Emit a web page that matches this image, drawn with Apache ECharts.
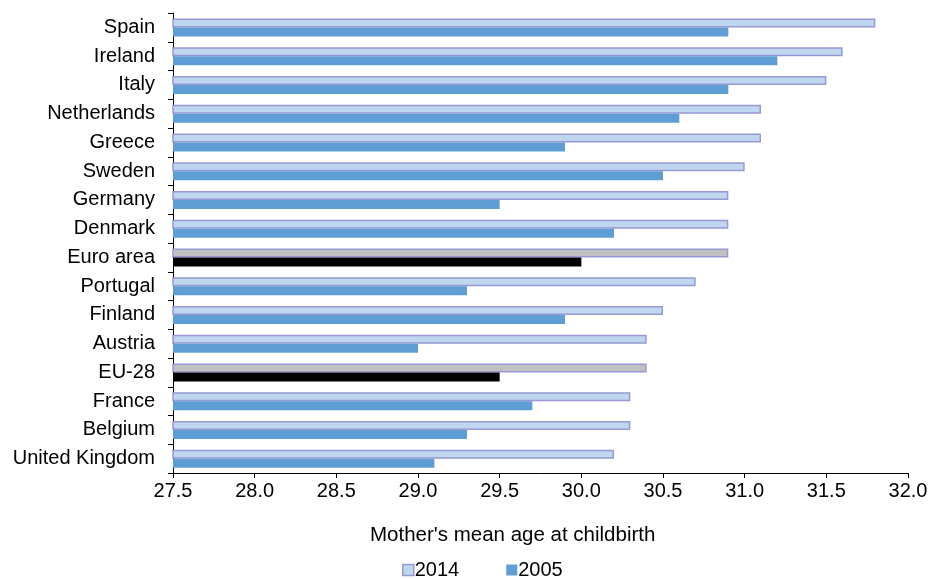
<!DOCTYPE html>
<html>
<head>
<meta charset="utf-8">
<script src="https://cdn.jsdelivr.net/npm/echarts@6/dist/echarts.min.js"></script>
<style>
  html, body { margin: 0; padding: 0; background: #fff; }
  #chart { width: 931px; height: 579px; }
</style>
</head>
<body>
<div id="chart"></div>
<script>
// Mother's mean age at childbirth, 2014 vs 2005
const countries = ['Spain', 'Ireland', 'Italy', 'Netherlands', 'Greece', 'Sweden', 'Germany', 'Denmark',
  'Euro area', 'Portugal', 'Finland', 'Austria', 'EU-28', 'France', 'Belgium', 'United Kingdom'];
const age2014 = [31.8, 31.6, 31.5, 31.1, 31.1, 31.0, 30.9, 30.9, 30.9, 30.7, 30.5, 30.4, 30.4, 30.3, 30.3, 30.2];
const age2005 = [30.9, 31.2, 30.9, 30.6, 29.9, 30.5, 29.5, 30.2, 30.0, 29.3, 29.9, 29.0, 29.5, 29.7, 29.3, 29.1];
const aggregates = ['Euro area', 'EU-28'];

const FONT = '"Liberation Sans", Arial, sans-serif';
const C2014 = '#bed7ee';
const C2014_BORDER = '#9898d6';
const C2005 = '#5f9ed4';

const data2014 = countries.map((c, i) => aggregates.includes(c)
  ? { value: age2014[i], itemStyle: { color: '#c0c0c0' } }
  : age2014[i]);
const data2005 = countries.map((c, i) => aggregates.includes(c)
  ? { value: age2005[i], itemStyle: { color: '#000000' } }
  : age2005[i]);

const chart = echarts.init(document.getElementById('chart'), null, { renderer: 'canvas' });
chart.setOption({
  animation: false,
  backgroundColor: '#ffffff',
  textStyle: { fontFamily: FONT },
  grid: { left: 173, right: 23, top: 13, bottom: 106, containLabel: false },
  title: {
    text: "Mother's mean age at childbirth",
    left: 365, top: 520,
    textStyle: { fontFamily: FONT, fontSize: 20.5, fontWeight: 'normal', color: '#000' }
  },
  legend: {
    top: 555, left: 397,
    itemGap: 47, itemWidth: 11, itemHeight: 11,
    textStyle: { fontFamily: FONT, fontSize: 20, color: '#000', padding: [0, 0, 0, -4] },
    data: [
      { name: '2014', icon: 'rect', itemStyle: { color: C2014, borderColor: C2014_BORDER, borderWidth: 1.5 } },
      { name: '2005', icon: 'rect', itemStyle: { color: C2005 } }
    ]
  },
  xAxis: {
    type: 'value', min: 27.5, max: 32, interval: 0.5,
    splitLine: { show: false },
    axisLine: { show: true, lineStyle: { color: '#000', width: 1 } },
    axisTick: { show: true, length: 5, lineStyle: { color: '#000' } },
    axisLabel: { fontFamily: FONT, fontSize: 20, color: '#000', margin: 8, formatter: v => v.toFixed(1) }
  },
  yAxis: {
    type: 'category', data: countries, inverse: true,
    axisLine: { show: true, lineStyle: { color: '#000', width: 1 } },
    axisTick: { show: true, length: 5, alignWithLabel: false, lineStyle: { color: '#000' } },
    axisLabel: { fontFamily: FONT, fontSize: 20, color: '#000', margin: 18 }
  },
  series: [
    {
      name: '2014', type: 'bar', data: data2014,
      barWidth: 9, barGap: '0%',
      itemStyle: { color: C2014, borderColor: C2014_BORDER, borderWidth: 1.5 }
    },
    {
      name: '2005', type: 'bar', data: data2005,
      barWidth: 9, barGap: '0%',
      itemStyle: { color: C2005 }
    }
  ]
});
</script>
</body>
</html>
